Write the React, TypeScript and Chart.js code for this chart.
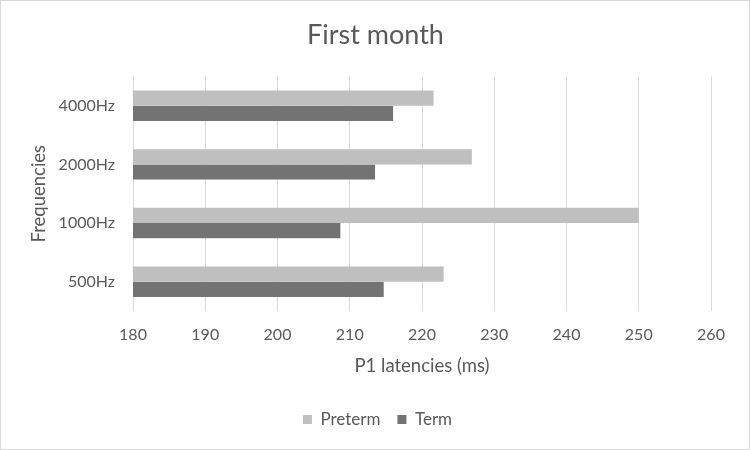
import React, { useEffect, useRef } from "react";
import { Chart, registerables } from "chart.js";

Chart.register(...registerables);

const categories = ["4000Hz", "2000Hz", "1000Hz", "500Hz"];
const pretermValues = [221.6, 226.9, 250.0, 223.0];
const termValues = [216.0, 213.5, 208.7, 214.7];
const xTicks = [180, 190, 200, 210, 220, 230, 240, 250, 260];

const FONT = "Lato, 'Open Sans', sans-serif";
const TEXT = "#595959";

const borderPlugin = {
  id: "outerBorder",
  afterLayout(chart: any) {
    const t = chart.titleBlock;
    if (t) {
      t.left += 10;
      t.right += 10;
    }
    const l = chart.legend;
    if (l) {
      l.left += 12;
      l.right += 12;
    }
  },
  afterDraw(chart: any) {
    const ctx = chart.ctx;
    ctx.save();
    ctx.strokeStyle = "#D9D9D9";
    ctx.lineWidth = 1;
    ctx.strokeRect(0.5, 0.5, chart.width - 1, chart.height - 1);
    ctx.restore();
  },
};

export default function App() {
  const ref = useRef<HTMLCanvasElement | null>(null);
  useEffect(() => {
    if (!ref.current) return;
    const chart = new Chart(ref.current, {
      type: "bar",
      data: {
        labels: categories,
        datasets: [
          {
            label: "Preterm",
            data: pretermValues,
            backgroundColor: "#BFBFBF",
            categoryPercentage: 0.52,
            barPercentage: 1,
          },
          {
            label: "Term",
            data: termValues,
            backgroundColor: "#737373",
            categoryPercentage: 0.52,
            barPercentage: 1,
          },
        ],
      },
      options: {
        indexAxis: "y",
        animation: false,
        responsive: false,
        maintainAspectRatio: false,
        layout: { padding: { left: 20, right: 39, top: 0, bottom: 12 } },
        plugins: {
          title: {
            display: true,
            text: "First month",
            color: TEXT,
            font: { family: FONT, size: 27, weight: "normal" },
            padding: { top: 19, bottom: 25 },
          },
          legend: {
            position: "bottom",
            labels: {
              color: TEXT,
              font: { family: FONT, size: 17 },
              boxWidth: 9,
              boxHeight: 9,
              padding: 17,
            },
          },
          tooltip: { enabled: false },
        },
        scales: {
          x: {
            min: 180,
            max: 260,
            afterBuildTicks(scale: any) {
              scale.ticks = xTicks.map((v) => ({ value: v }));
            },
            afterFit(scale: any) {
              scale.height = 83;
            },
            grid: { color: "#D9D9D9", drawTicks: false },
            border: { display: false },
            ticks: {
              color: TEXT,
              font: { family: FONT, size: 16 },
              padding: 14,
            },
            title: {
              display: true,
              text: "P1 latencies (ms)",
              color: TEXT,
              font: { family: FONT, size: 18.5 },
              padding: { top: 6, bottom: 17 },
            },
          },
          y: {
            afterFit(scale: any) {
              scale.width = 113;
            },
            grid: { display: false, drawTicks: false },
            border: { display: false },
            ticks: {
              color: TEXT,
              font: { family: FONT, size: 16 },
              padding: 18,
            },
            title: {
              display: true,
              text: "Frequencies",
              color: TEXT,
              font: { family: FONT, size: 18.5 },
              padding: { top: 8, bottom: 0 },
            },
          },
        },
      },
      plugins: [borderPlugin],
    } as any);
    return () => chart.destroy();
  }, []);
  return (
    <div style={{ position: "fixed", left: 0, top: 0, width: 750, height: 450, background: "#fff" }}>
      <canvas ref={ref} width={750} height={450} style={{ width: 750, height: 450 }} />
    </div>
  );
}
